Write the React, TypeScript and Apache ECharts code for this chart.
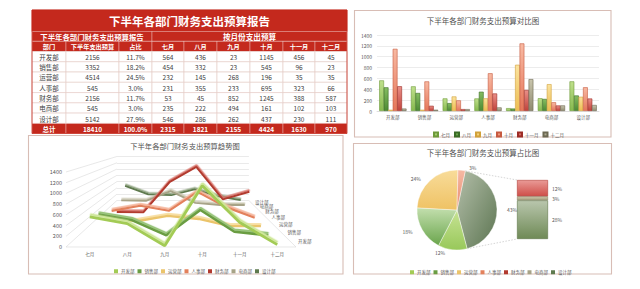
import React, { useEffect, useRef } from "react";
import * as echarts from "echarts";

// ---------------- data ----------------
const departments = ["开发部", "销售部", "运营部", "人事部", "财务部", "电商部", "设计部"];
const months = ["七月", "八月", "九月", "十月", "十一月", "十二月"];
const budgets = [2156, 3352, 4514, 545, 2156, 545, 5142];
const julValues = [564, 454, 232, 231, 53, 235, 546];
const augValues = [436, 332, 145, 355, 45, 222, 286];
const sepValues = [23, 23, 268, 233, 852, 494, 262];
const octValues = [1145, 545, 196, 695, 1245, 161, 437];
const novValues = [456, 96, 35, 323, 388, 102, 230];
const decValues = [45, 23, 35, 66, 587, 103, 111];
const monthlyValues = [julValues, augValues, sepValues, octValues, novValues, decValues];
const pieMainCount = 4;
const otherName = "其他";

const tableTitle = "下半年各部门财务支出预算报告";
const tableSubLeft = "下半年各部门财务支出预算报告";
const tableSubRight = "按月份支出预算";
const tableHeaders = ["部门", "下半年支出预算", "占比", ...months];
const totalLabel = "总计";
const barTitle = "下半年各部门财务支出预算对比图";
const lineTitle = "下半年各部门财务支出预算趋势图";
const pieTitle = "下半年各部门财务支出预算占比图";

const AXIS_MIN = 0;
const AXIS_MAX = 1400;
const AXIS_STEP = 200;

// ---------------- styles ----------------
const FONT = '"Noto Sans CJK SC", "Noto Sans", sans-serif';
const RED = "#c4291d";
const TXT = "#595959";
const BOX = "#d8bdb5";

const monthTop = ["#bfe08c", "#86bd62", "#fbe39e", "#f8b9a2", "#ea8f88", "#c9c5ad"];
const monthBottom = ["#86b94e", "#4d8a33", "#edbd52", "#e5765a", "#c0423a", "#8f8b70"];
const monthEdge = ["#6e9a3a", "#3a6b25", "#d1a13a", "#c65a40", "#9c2d26", "#6c6852"];

const deptColors = ["#a3cb55", "#6a9d43", "#ebc46b", "#e3815c", "#b23a2f", "#a7a387", "#5e7a4e"];
const deptLight = ["#cfe79a", "#98c47a", "#f7dea0", "#f4b49a", "#d8736a", "#cbc8b2", "#8ea37f"];

const grad = (a: string, b: string) =>
  new echarts.graphic.LinearGradient(0, 0, 0, 1, [
    { offset: 0, color: a },
    { offset: 1, color: b },
  ]);

// ---------------- 3D projection for the trend chart ----------------
const VX = 182;
const VY = 134.5;
const PA = 0.1036;
const FL = 71;
const FR = 296;
const FT = 172;
const FB = 247;
const BACK = 6.8;
const sc = (k: number) => 1 / (1 + PA * k);
const P = (x: number, y: number, k: number) => [VX + (x - VX) * sc(k), VY + (y - VY) * sc(k)];
const depthGrid = (k: number) => {
  const [l, t] = P(FL, FT, k);
  const [r, b] = P(FR, FB, k);
  return { left: l, top: t, width: r - l, height: b - t };
};
const yFront = (v: number) => FB - ((v - AXIS_MIN) / (AXIS_MAX - AXIS_MIN)) * (FB - FT);
const plain = (v: number) => String(v);

function buildOption() {
  const total = budgets.reduce((a, b) => a + b, 0);
  const monthTotals = monthlyValues.map((arr) => arr.reduce((a, b) => a + b, 0));
  const otherIdx = departments.map((_, i) => i).slice(pieMainCount);
  const otherSum = otherIdx.reduce((a, i) => a + budgets[i], 0);

  const grids: any[] = [];
  const xAxes: any[] = [];
  const yAxes: any[] = [];
  const series: any[] = [];
  const graphics: any[] = [];

  // ---- bar comparison chart (grid 0)
  grids.push({ left: 377, top: 35, width: 222, height: 76 });
  xAxes.push({
    type: "category", gridIndex: 0, data: departments,
    axisLine: { lineStyle: { color: "#d9d9d9", width: 0.8 } }, axisTick: { show: false },
    axisLabel: { fontSize: 4.5, color: TXT, margin: 4, fontFamily: FONT },
  });
  yAxes.push({
    type: "value", gridIndex: 0, min: AXIS_MIN, max: AXIS_MAX, interval: AXIS_STEP,
    axisLine: { show: false }, axisTick: { show: false },
    axisLabel: { fontSize: 5, color: TXT, margin: 5, fontFamily: FONT, formatter: plain },
    splitLine: { lineStyle: { color: "#e4e4e4", width: 0.7 } },
  });
  months.forEach((m, j) => {
    series.push({
      type: "bar", name: m, xAxisIndex: 0, yAxisIndex: 0, data: monthlyValues[j],
      barCategoryGap: "14%", barGap: "-6%",
      itemStyle: { color: grad(monthTop[j], monthBottom[j]), borderColor: monthEdge[j], borderWidth: 0.6 },
    });
  });

  // ---- 3D trend chart: one grid per depth (grids 1..7)
  departments.forEach((_, i) => {
    grids.push(depthGrid(i));
    const front = i === 0;
    xAxes.push({
      type: "category", gridIndex: 1 + i, data: months, show: front,
      axisLine: { show: false }, axisTick: { show: false },
      axisLabel: { fontSize: 4.5, color: TXT, margin: 5, fontFamily: FONT },
    });
    yAxes.push({
      type: "value", gridIndex: 1 + i, min: AXIS_MIN, max: AXIS_MAX, interval: AXIS_STEP, show: front,
      axisLine: { show: false }, axisTick: { show: false }, splitLine: { show: false },
      axisLabel: { fontSize: 5.5, color: TXT, margin: 9, fontFamily: FONT, formatter: plain },
    });
  });
  // back wall grid (8)
  grids.push(depthGrid(BACK));
  xAxes.push({ type: "category", gridIndex: 8, data: months, show: false });
  yAxes.push({
    type: "value", gridIndex: 8, min: AXIS_MIN, max: AXIS_MAX, interval: AXIS_STEP,
    axisLine: { show: false }, axisTick: { show: false }, axisLabel: { show: false },
    splitLine: { show: true, lineStyle: { color: "#dcdcdc", width: 0.6 } },
  });
  for (let i = departments.length - 1; i >= 0; i--) {
    const s = sc(i);
    series.push({
      type: "line", name: departments[i], xAxisIndex: 1 + i, yAxisIndex: 1 + i,
      data: monthlyValues.map((arr) => arr[i]),
      symbol: "none", z: 3 + (departments.length - i),
      color: deptColors[i],
      lineStyle: {
        color: deptColors[i], width: 2.8 * s,
        shadowColor: deptLight[i], shadowOffsetY: -2.3 * s, shadowOffsetX: 0.3, shadowBlur: 0,
      },
    });
  }

  // ---- pie + bar of pie (grid 9)
  const pieCx = 457, pieCy = 210, pieR = 40, pieStart = 78;
  const pieGrad = [
    ["#c7e394", "#98c85a"],
    ["#c3dfae", "#6aa54c"],
    ["#f8dc9a", "#efc264"],
    ["#f6b9a4", "#e88c70"],
  ];
  series.push({
    type: "pie", center: [pieCx, pieCy], radius: pieR, startAngle: pieStart, clockwise: true,
    percentPrecision: 0, silent: true,
    label: { show: true, position: "outside", formatter: "{d}%", fontSize: 5, color: TXT, fontFamily: FONT },
    labelLine: { show: false, length: 3, length2: 2 },
    itemStyle: { borderColor: "rgba(255,255,255,0.8)", borderWidth: 0.5 },
    data: [
      {
        name: otherName, value: otherSum,
        itemStyle: { color: new echarts.graphic.LinearGradient(0, 0, 1, 1, [{ offset: 0, color: "#b4bfaa" }, { offset: 1, color: "#5b7450" }]) },
      },
      ...departments.slice(0, pieMainCount).map((d, i) => ({
        name: d, value: budgets[i], itemStyle: { color: grad(pieGrad[i][0], pieGrad[i][1]) },
      })),
    ],
  });
  const pbL = 517, pbT = 180, pbW = 31, pbH = 59;
  grids.push({ left: pbL, top: pbT, width: pbW, height: pbH });
  xAxes.push({ type: "category", gridIndex: 9, data: [otherName], show: false });
  yAxes.push({ type: "value", gridIndex: 9, min: 0, max: otherSum, show: false });
  const stackGrad: Record<number, string[]> = {
    6: ["#b9c6ad", "#6f8a56", "#5e7548"],
    5: ["#c9c3a4", "#aaa384", "#8d8768"],
    4: ["#e99a96", "#cf4f49", "#b03c35"],
  };
  [6, 5, 4].forEach((idx) => {
    series.push({
      type: "bar", name: departments[idx], xAxisIndex: 9, yAxisIndex: 9, stack: "other",
      barWidth: "100%", data: [budgets[idx]], silent: true,
      itemStyle: { color: grad(stackGrad[idx][0], stackGrad[idx][1]), borderColor: stackGrad[idx][2], borderWidth: 0.6 },
      label: {
        show: true, position: "right", distance: 4, fontSize: 5, color: TXT, fontFamily: FONT,
        formatter: () => Math.round((budgets[idx] / total) * 100) + "%",
      },
    });
  });
  const a0 = (pieStart * Math.PI) / 180;
  const a1 = ((pieStart - (360 * otherSum) / total) * Math.PI) / 180;
  const dash = { stroke: "#b8b8b8", lineWidth: 0.6, lineDash: [1.5, 1.5] };
  graphics.push({ type: "line", shape: { x1: pieCx + pieR * Math.cos(a0), y1: pieCy - pieR * Math.sin(a0), x2: pbL, y2: pbT }, style: dash });
  graphics.push({ type: "line", shape: { x1: pieCx + pieR * Math.cos(a1), y1: pieCy - pieR * Math.sin(a1), x2: pbL, y2: pbT + pbH }, style: dash });

  // ---- 3D walls (side wall and floor edges)
  const wall = { stroke: "#d9d9d9", lineWidth: 0.6 };
  for (let v = AXIS_MIN; v <= AXIS_MAX; v += AXIS_STEP) {
    const [bx, by] = P(FL, yFront(v), BACK);
    graphics.push({ type: "line", shape: { x1: FL - 5, y1: yFront(v), x2: bx, y2: by }, style: wall });
  }
  {
    const [bx, by] = P(FR, FB, BACK);
    graphics.push({ type: "line", shape: { x1: FL - 5, y1: FB, x2: FR, y2: FB }, style: wall });
    graphics.push({ type: "line", shape: { x1: FR, y1: FB, x2: bx, y2: by }, style: wall });
  }
  departments.forEach((d, i) => {
    const [tx, ty] = P(FR + 8, FB, i + 0.5);
    graphics.push({
      type: "text", x: tx, y: ty,
      style: { text: d, fontSize: 4.5, fontFamily: FONT, fill: TXT, align: "left", verticalAlign: "middle" },
    });
  });

  // ---- boxes & titles
  const box = (x: number, y: number, w: number, h: number) =>
    graphics.push({ type: "rect", shape: { x, y, width: w, height: h }, style: { fill: "none", stroke: BOX, lineWidth: 1.1 }, z: -1 });
  box(354.5, 10.5, 256.5, 126.5);
  box(28.5, 135.5, 314.5, 138.5);
  box(353.5, 143.5, 258, 130.5);
  const title = (t: string, x: number, y: number, fs: number) =>
    graphics.push({ type: "text", x, y, style: { text: t, fontSize: fs, fontFamily: FONT, fill: "#505050", align: "center", verticalAlign: "middle" } });
  title(barTitle, 483, 20, 7.5);
  title(lineTitle, 185, 146, 7.3);
  title(pieTitle, 483, 152, 7.5);

  // ---- table
  const colX = [32, 66, 119, 152, 184, 217, 250, 283, 315, 347];
  const cell = (x1: number, x2: number, y: number, h: number, fill: string, stroke: string, text: string, fs: number, color: string, bold: boolean) => {
    graphics.push({ type: "rect", shape: { x: x1, y, width: x2 - x1, height: h }, style: { fill, stroke, lineWidth: 0.6 } });
    graphics.push({
      type: "text", x: (x1 + x2) / 2, y: y + h / 2 + 0.3,
      style: { text, fontSize: fs, fontFamily: FONT, fontWeight: bold ? "bold" : "normal", fill: color, align: "center", verticalAlign: "middle" },
    });
  };
  const headLine = "rgba(255,255,255,0.55)";
  cell(colX[0], colX[9], 10, 21.5, RED, RED, tableTitle, 11.5, "#fff", true);
  cell(colX[0], colX[3], 31.5, 9.8, RED, headLine, tableSubLeft, 7.4, "#fff", true);
  cell(colX[3], colX[9], 31.5, 9.8, RED, headLine, tableSubRight, 7.6, "#fff", true);
  tableHeaders.forEach((h, c) => cell(colX[c], colX[c + 1], 41.3, 10.2, RED, headLine, h, 6.2, "#fff", true));
  const rowH = 10.27;
  const dataTop = 51.5;
  departments.forEach((d, r) => {
    const vals = [d, String(budgets[r]), ((budgets[r] / total) * 100).toFixed(1) + "%", ...monthlyValues.map((arr) => String(arr[r]))];
    vals.forEach((v, c) => cell(colX[c], colX[c + 1], dataTop + r * rowH, rowH, "#fff", "#e4c9c5", v, 6.5, "#404040", false));
  });
  const totalTop = dataTop + departments.length * rowH;
  const totVals = [totalLabel, String(total), "100.0%", ...monthTotals.map(String)];
  totVals.forEach((v, c) => cell(colX[c], colX[c + 1], totalTop, 10.1, RED, headLine, v, 6.5, "#fff", true));
  graphics.push({ type: "rect", shape: { x: colX[0], y: 10, width: colX[9] - colX[0], height: totalTop + 10.1 - 10 }, style: { fill: "none", stroke: RED, lineWidth: 0.8 } });

  const legendBase = {
    orient: "horizontal", itemWidth: 4, itemHeight: 4, icon: "rect", selectedMode: false,
    textStyle: { fontSize: 4.5, color: TXT, fontFamily: FONT, padding: [0, 0, 0, -2] },
  };

  return {
    animation: false,
    backgroundColor: "#ffffff",
    textStyle: { fontFamily: FONT },
    grid: grids,
    xAxis: xAxes,
    yAxis: yAxes,
    legend: [
      { ...legendBase, data: months, left: 428, top: 126.5, itemGap: 4 },
      { ...legendBase, data: departments, left: 109, top: 264, itemGap: 3 },
      { ...legendBase, data: departments, left: 405, top: 265, itemGap: 3 },
    ],
    series,
    graphic: graphics,
  };
}

export default function App() {
  const ref = useRef<HTMLDivElement>(null);
  useEffect(() => {
    const chart = echarts.init(ref.current!, null, { renderer: "svg" });
    chart.setOption(buildOption() as any);
    return () => chart.dispose();
  }, []);
  return (
    <div
      ref={ref}
      style={{ position: "fixed", left: 0, top: 0, width: 640, height: 289, background: "#fff" }}
    />
  );
}
